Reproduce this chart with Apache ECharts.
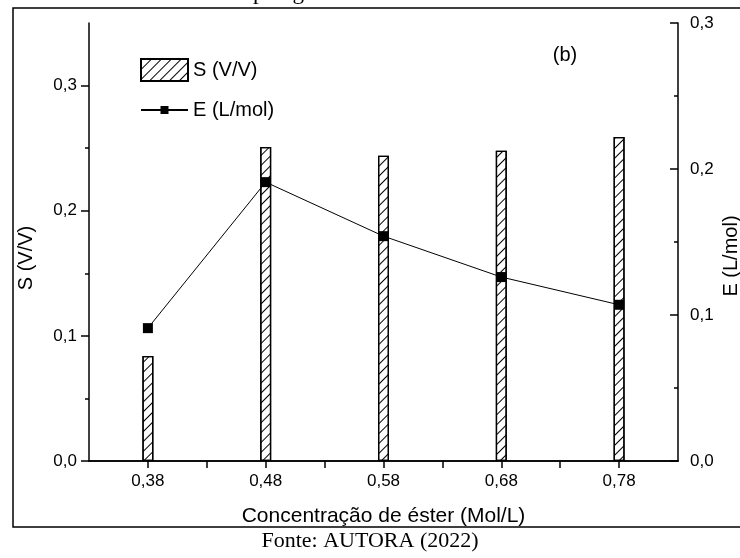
<!DOCTYPE html>
<html>
<head>
<meta charset="utf-8">
<script src="https://cdn.jsdelivr.net/npm/echarts@6/dist/echarts.min.js"></script>
</head>
<body style="margin:0;background:#fff">
<div id="main" style="width:740px;height:558px;"></div>
<script type="text/javascript">
// dados
var concentracao = [0.38, 0.48, 0.58, 0.68, 0.78];
var valoresS = [0.084, 0.251, 0.244, 0.248, 0.259];
var valoresE = [0.091, 0.191, 0.154, 0.126, 0.107];
var ticksX = [0.38, 0.48, 0.58, 0.68, 0.78];
var ticksXMenor = [0.43, 0.53, 0.63, 0.73];
var ticksXTopo = [0.38, 0.43, 0.48, 0.53, 0.58, 0.63, 0.68, 0.73, 0.78];
var ticksS = [0, 0.1, 0.2, 0.3];
var ticksE = [0, 0.1, 0.2, 0.3];
var ticksYMenor = [0.05, 0.15, 0.25];

var sans = 'Liberation Sans';
var preto = '#000';

function virgula(v, casas) {
    return v.toFixed(casas).replace('.', ',');
}

var myChart = echarts.init(document.getElementById('main'));

var linha = {lineStyle: {color: preto, width: 1.5}};

var option = {
    backgroundColor: '#fff',
    animation: false,
    grid: {left: 89, right: 62, top: 23, bottom: 97},
    legend: [
        {
            left: 140, top: 58, padding: 0,
            data: [{name: 'S (V/V)', icon: 'rect'}],
            itemWidth: 47, itemHeight: 22,
            textStyle: {fontSize: 20, color: preto, fontFamily: sans}
        },
        {
            left: 140, top: 100, padding: 0,
            data: ['E (L/mol)'],
            itemWidth: 47, itemHeight: 10,
            textStyle: {fontSize: 20, color: preto, fontFamily: sans}
        }
    ],
    xAxis: [
        {
            type: 'value', position: 'bottom', min: 0.33, max: 0.83,
            axisLine: linha,
            axisTick: {customValues: ticksX, length: 7, lineStyle: {color: preto, width: 1.5}},
            axisLabel: {
                customValues: ticksX, margin: 12, fontSize: 17, color: preto, fontFamily: sans,
                formatter: function (v) { return virgula(v, 2); }
            },
            splitLine: {show: false}
        },
        {
            type: 'value', position: 'bottom', min: 0.33, max: 0.83,
            axisLine: {show: false},
            axisTick: {customValues: ticksXMenor, length: 4, lineStyle: {color: preto, width: 1.5}},
            axisLabel: {show: false},
            splitLine: {show: false}
        },
        {
            type: 'value', position: 'top', min: 0.33, max: 0.83,
            axisLine: linha,
            axisTick: {customValues: ticksXTopo, inside: true, length: 7, lineStyle: {color: preto, width: 1.5}},
            axisLabel: {show: false},
            splitLine: {show: false}
        }
    ],
    yAxis: [
        {
            type: 'value', position: 'left', min: 0, max: 0.35,
            axisLine: linha,
            axisTick: {customValues: ticksS, length: 8, lineStyle: {color: preto, width: 1.5}},
            axisLabel: {
                customValues: ticksS, margin: 12, fontSize: 17, color: preto, fontFamily: sans,
                formatter: function (v) { return virgula(v, 1); }
            },
            splitLine: {show: false}
        },
        {
            type: 'value', position: 'right', min: 0, max: 0.3,
            axisLine: linha,
            axisTick: {customValues: ticksE, inside: true, length: 8, lineStyle: {color: preto, width: 1.5}},
            axisLabel: {
                customValues: ticksE, margin: 12, fontSize: 17, color: preto, fontFamily: sans,
                formatter: function (v) { return virgula(v, 1); }
            },
            splitLine: {show: false}
        },
        {
            type: 'value', position: 'left', min: 0, max: 0.35,
            axisLine: {show: false},
            axisTick: {customValues: ticksYMenor, length: 4, lineStyle: {color: preto, width: 1.5}},
            axisLabel: {show: false},
            splitLine: {show: false}
        },
        {
            type: 'value', position: 'right', min: 0, max: 0.3,
            axisLine: {show: false},
            axisTick: {customValues: ticksYMenor, inside: true, length: 4, lineStyle: {color: preto, width: 1.5}},
            axisLabel: {show: false},
            splitLine: {show: false}
        }
    ],
    series: [
        {
            name: 'S (V/V)',
            type: 'bar',
            xAxisIndex: 0, yAxisIndex: 0,
            barWidth: 11,
            data: concentracao.map(function (c, i) { return [c, valoresS[i]]; }),
            itemStyle: {
                color: '#fff', borderColor: preto, borderWidth: 1.3,
                decal: {
                    color: preto, symbol: 'rect', symbolSize: 1,
                    dashArrayX: [1, 0], dashArrayY: [1, 6],
                    rotation: -Math.PI / 4
                }
            }
        },
        {
            name: 'E (L/mol)',
            type: 'line',
            xAxisIndex: 0, yAxisIndex: 1,
            data: concentracao.map(function (c, i) { return [c, valoresE[i]]; }),
            symbol: 'rect', symbolSize: 10,
            itemStyle: {color: preto},
            lineStyle: {color: preto, width: 1},
            z: 5
        }
    ],
    graphic: [
        {
            type: 'rect', silent: true,
            shape: {x: 13, y: 8, width: 740, height: 519},
            style: {fill: 'none', stroke: preto, lineWidth: 1.5}
        },
        {
            type: 'text', x: 253, y: 4,
            style: {text: 'parágrafo', font: '23px "Liberation Serif"', fill: preto, textVerticalAlign: 'bottom'}
        },
        {
            type: 'text', x: 565, y: 55,
            style: {text: '(b)', font: '20px "Liberation Sans"', fill: preto, textAlign: 'center', textVerticalAlign: 'middle'}
        },
        {
            type: 'text', x: 26, y: 258, rotation: Math.PI / 2,
            style: {text: 'S (V/V)', font: '20px "Liberation Sans"', fill: preto, textAlign: 'center', textVerticalAlign: 'middle'}
        },
        {
            type: 'text', x: 731, y: 256, rotation: Math.PI / 2,
            style: {text: 'E (L/mol)', font: '20px "Liberation Sans"', fill: preto, textAlign: 'center', textVerticalAlign: 'middle'}
        },
        {
            type: 'text', x: 383.5, y: 516,
            style: {text: 'Concentração de éster (Mol/L)', font: '21px "Liberation Sans"', fill: preto, textAlign: 'center', textVerticalAlign: 'middle'}
        },
        {
            type: 'text', x: 370, y: 541,
            style: {text: 'Fonte: AUTORA (2022)', font: '22px "Liberation Serif"', fill: preto, textAlign: 'center', textVerticalAlign: 'middle'}
        }
    ]
};
myChart.setOption(option);
</script>
</body>
</html>
